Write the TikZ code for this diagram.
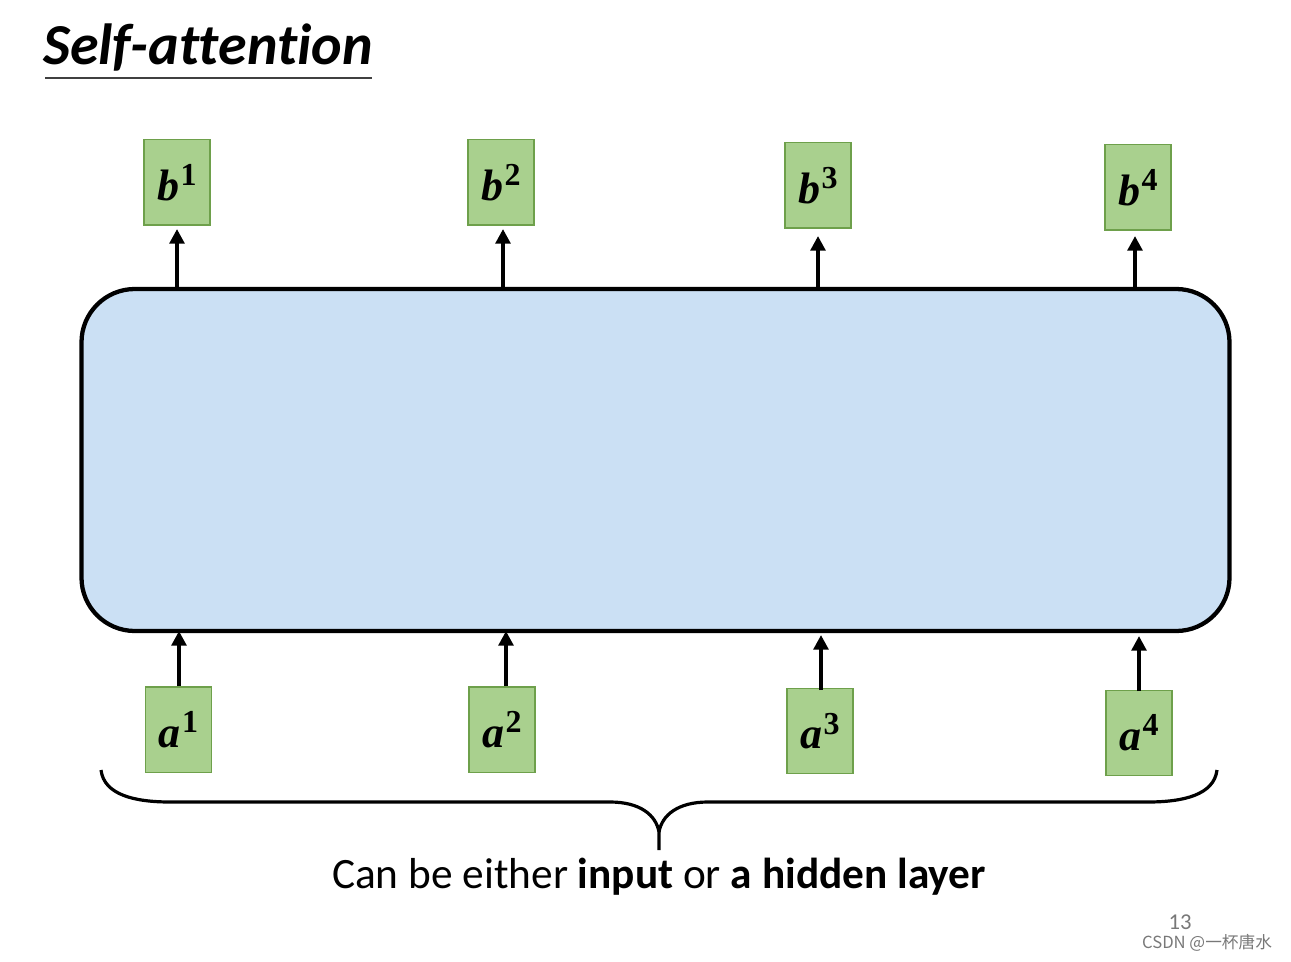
\documentclass[tikz,border=0pt]{standalone}
\usepackage{fontspec}
\setmainfont{Carlito}
\newfontfamily\titlef[Ligatures=NoCommon]{Carlito}
\newfontfamily\cjkf{Noto Sans CJK SC}
\newfontfamily\mathserif{Liberation Serif}
\usetikzlibrary{arrows.meta}
\definecolor{boxgreen}{RGB}{169,208,142}
\definecolor{boxedge}{RGB}{110,160,75}
\definecolor{layerblue}{RGB}{203,224,244}
\definecolor{pagegray}{RGB}{120,120,120}
\tikzset{
  vec/.style={draw=boxedge, line width=1pt, fill=boxgreen, minimum width=49.5pt, minimum height=64pt, inner sep=0pt, font=\mathserif\fontsize{33}{33}\selectfont},
  up/.style={-{Triangle[length=11pt,width=11pt]}, line width=3pt},
}
\newcommand{\vlab}[2]{\textbf{\textit{#1}}\kern1pt\raisebox{11pt}{\fontsize{24}{24}\selectfont\textbf{#2}}}
\begin{document}
\begin{tikzpicture}[x=0.75pt,y=-0.75pt]
\useasboundingbox (0,0) rectangle (1291,962);
% title
\node[anchor=south west, inner sep=0pt, font=\titlef\fontsize{43.5}{43.5}\selectfont\bfseries\itshape] (title) at (43,72) {Self-attention};
\draw[line width=1.5pt, color=black!75] (45,78) -- (372,78);
% main layer
\node[draw, line width=3.2pt, fill=layerblue, rounded corners=40pt, minimum width=861pt, minimum height=256.5pt, inner sep=0pt] (layer) at (655.5,460) {};
% outputs
\node[vec] (b1) at (177,182.5) {\vlab{b}{1}};
\node[vec] (b2) at (501,182.5) {\vlab{b}{2}};
\node[vec] (b3) at (818,185.5) {\vlab{b}{3}};
\node[vec] (b4) at (1138,187.5) {\vlab{b}{4}};
% inputs
\node[vec] (a1) at (178.5,729.5) {\vlab{a}{1}};
\node[vec] (a2) at (502,729.5) {\vlab{a}{2}};
\node[vec] (a3) at (820,731) {\vlab{a}{3}};
\node[vec] (a4) at (1139,733) {\vlab{a}{4}};
% arrows
\coordinate (t1) at (177,229); \coordinate (t2) at (503,229);
\coordinate (t3) at (818,236); \coordinate (t4) at (1135,236);
\draw[up] (177,288) -- (t1);
\draw[up] (503,288) -- (t2);
\draw[up] (818,288) -- (t3);
\draw[up] (1135,288) -- (t4);
\draw[up] (179,686) -- (179,631);
\draw[up] (506,686) -- (506,631);
\draw[up] (821,690) -- (821,635);
\draw[up] (1139,691) -- (1139,636);
% brace
\draw[line width=2.4pt] (101,770) .. controls (104,795) and (135,802) .. (170,802)
  -- (610,802) .. controls (640,802) and (656,815) .. (659,832) -- (659,850);
\draw[line width=2.4pt] (1217,770) .. controls (1214,795) and (1183,802) .. (1148,802)
  -- (708,802) .. controls (678,802) and (662,815) .. (659,832);
\node[font=\fontsize{32.5}{32.5}\selectfont, anchor=base] (cap) at (659,888) {Can be either \textbf{input} or \textbf{a hidden layer}};
% page number and watermark
\node[font=\fontsize{17}{17}\selectfont, text=pagegray] (pg) at (1180,922) {13};
\node[font=\cjkf\fontsize{12.5}{12.5}\selectfont, text=pagegray] (wm) at (1207,943) {CSDN @一杯唐水};
\end{tikzpicture}
\end{document}
